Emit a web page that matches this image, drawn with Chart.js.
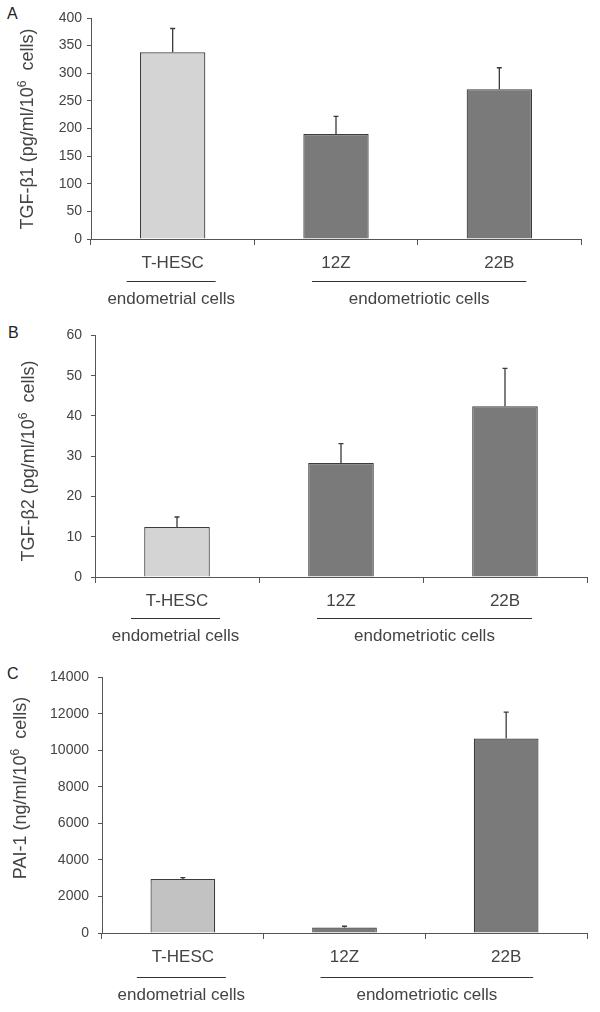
<!DOCTYPE html>
<html>
<head>
<meta charset="utf-8">
<script src="https://cdn.jsdelivr.net/npm/chart.js@4.4.1/dist/chart.umd.min.js"></script>
<style>
  html, body { margin: 0; padding: 0; background: #fff; }
  body { width: 600px; height: 1012px; position: relative; overflow: hidden; font-family: 'Liberation Sans', Arial, sans-serif; }
  .panel { position: absolute; left: 0; width: 600px; }
  .letter { position: absolute; font-size: 16px; color: #222; line-height: 16px; }
</style>
</head>
<body>
<div class="letter" style="left:7px;top:6px;">A</div>
<div class="letter" style="left:8px;top:325px;">B</div>
<div class="letter" style="left:7px;top:666px;">C</div>
<div class="panel" style="top:0px;height:312px;"><canvas id="cA"></canvas></div>
<div class="panel" style="top:318px;height:340px;"><canvas id="cB"></canvas></div>
<div class="panel" style="top:660px;height:352px;"><canvas id="cC"></canvas></div>
<script>
// ---- data ----
const categories = ['T-HESC', '12Z', '22B'];
const tgfb1 = [338, 190, 271];
const tgfb1Err = [43, 32, 39];
const tgfb2 = [12.4, 28.3, 42.4];
const tgfb2Err = [2.5, 4.8, 9.4];
const pai1 = [2960, 300, 10650];
const pai1Err = [70, 70, 1450];
const groupLabels = ['endometrial cells', 'endometriotic cells'];
const groupStart = [0, 1];
const groupEnd = [0, 2];

const FONT = "'Liberation Sans', Arial, sans-serif";
const TEXT = '#444';
const AXIS = '#555';

const errorBars = {
  id: 'errorBars',
  afterDatasetsDraw(chart, args, opts) {
    const ctx = chart.ctx;
    const ys = chart.scales.y;
    const meta = chart.getDatasetMeta(0);
    const vals = chart.data.datasets[0].data;
    ctx.save();
    ctx.strokeStyle = '#3a3a3a';
    ctx.lineWidth = 1.3;
    meta.data.forEach((bar, i) => {
      const v = vals[i], e = opts.err[i];
      const y0 = ys.getPixelForValue(v);
      const y1 = ys.getPixelForValue(v + e);
      ctx.beginPath();
      ctx.moveTo(bar.x, y0);
      ctx.lineTo(bar.x, y1);
      ctx.moveTo(bar.x - 2.5, y1);
      ctx.lineTo(bar.x + 2.5, y1);
      ctx.stroke();
    });
    ctx.restore();
  }
};

const groupDeco = {
  id: 'groupDeco',
  afterDraw(chart, args, opts) {
    const ctx = chart.ctx;
    const xs = chart.scales.x;
    const yb = chart.chartArea.bottom;
    ctx.save();
    ctx.strokeStyle = '#333';
    ctx.lineWidth = 1;
    ctx.fillStyle = TEXT;
    ctx.font = '17px ' + FONT;
    ctx.textAlign = 'center';
    ctx.textBaseline = 'middle';
    groupLabels.forEach((lab, g) => {
      const a = groupStart[g], b = groupEnd[g];
      let x0, x1;
      if (a === b) { x0 = xs.getPixelForValue(a) - 46; x1 = xs.getPixelForValue(b) + 43; }
      else { x0 = xs.getPixelForValue(a) - 24; x1 = xs.getPixelForValue(b) + 27; }
      const ly = yb + opts.lineOff;
      ctx.beginPath();
      ctx.moveTo(x0, ly + 0.5);
      ctx.lineTo(x1, ly + 0.5);
      ctx.stroke();
      ctx.fillText(lab, (x0 + x1) / 2, ly + opts.labelOff);
    });
    ctx.restore();
  }
};

const yTitle = {
  id: 'yTitle',
  afterDraw(chart, args, opts) {
    const ctx = chart.ctx;
    ctx.save();
    ctx.translate(opts.x, opts.y);
    ctx.rotate(-Math.PI / 2);
    ctx.fillStyle = TEXT;
    ctx.textBaseline = 'middle';
    const big = '18px ' + FONT, small = '12px ' + FONT;
    const parts = opts.parts; // [before, sup, after]
    ctx.font = big;
    const w0 = ctx.measureText(parts[0]).width;
    const w2 = ctx.measureText(parts[2]).width;
    ctx.font = small;
    const w1 = ctx.measureText(parts[1]).width;
    let x = -(w0 + w1 + w2) / 2;
    ctx.textAlign = 'left';
    ctx.font = big;
    ctx.fillText(parts[0], x, 0);
    x += w0;
    ctx.font = small;
    ctx.fillText(parts[1], x, -5);
    x += w1;
    ctx.font = big;
    ctx.fillText(parts[2], x, 0);
    ctx.restore();
  }
};

function makeChart(id, values, errs, light, yMax, yStep, pad, yWidth, yPad, lineOff, titleOpts) {
  const colors = values.map((v, i) => i === 0 ? light : '#7a7a7a');
  return new Chart(document.getElementById(id), {
    type: 'bar',
    data: {
      labels: categories,
      datasets: [{
        data: values,
        backgroundColor: colors,
        borderColor: '#3c3c3c',
        borderWidth: 1.2,
        borderSkipped: 'bottom',
        categoryPercentage: 1,
        barPercentage: 0.4
      }]
    },
    options: {
      responsive: true,
      maintainAspectRatio: false,
      animation: false,
      devicePixelRatio: 1,
      layout: { padding: pad },
      plugins: {
        legend: { display: false },
        tooltip: { enabled: false },
        errorBars: { err: errs },
        groupDeco: { lineOff: lineOff, labelOff: 18 },
        yTitle: titleOpts
      },
      scales: {
        x: {
          grid: { offset: true, drawOnChartArea: false, drawTicks: true, tickLength: 6, color: AXIS, lineWidth: 1 },
          border: { color: AXIS, width: 1 },
          ticks: { color: TEXT, font: { family: FONT, size: 17 }, padding: 8, maxRotation: 0 },
          afterFit(s) { s.height = 40; }
        },
        y: {
          min: 0, max: yMax,
          grid: { drawOnChartArea: false, drawTicks: true, tickLength: 4, color: AXIS, lineWidth: 1 },
          border: { color: AXIS, width: 1 },
          ticks: { stepSize: yStep, color: TEXT, font: { family: FONT, size: 14 }, padding: yPad,
                   callback: (v) => String(v) },
          afterFit(s) { s.width = yWidth; }
        }
      }
    },
    plugins: [errorBars, groupDeco, yTitle]
  });
}

makeChart('cA', tgfb1, tgfb1Err, '#d4d4d4', 400, 50,
  { top: 18, left: 0, right: 19, bottom: 33 }, 91, 5, 42,
  { x: 28, y: 129, parts: ['TGF-\u03B21 (pg/ml/10', '6', '  cells)'] });
makeChart('cB', tgfb2, tgfb2Err, '#d4d4d4', 60, 10,
  { top: 16, left: 0, right: 13, bottom: 41 }, 95, 9, 41,
  { x: 29, y: 143, parts: ['TGF-\u03B22 (pg/ml/10', '6', '  cells)'] });
makeChart('cC', pai1, pai1Err, '#c2c2c2', 14000, 2000,
  { top: 15, left: 0, right: 13, bottom: 39 }, 102, 9, 44,
  { x: 21, y: 128, parts: ['PAI-1 (ng/ml/10', '6', '  cells)'] });
</script>
</body>
</html>
